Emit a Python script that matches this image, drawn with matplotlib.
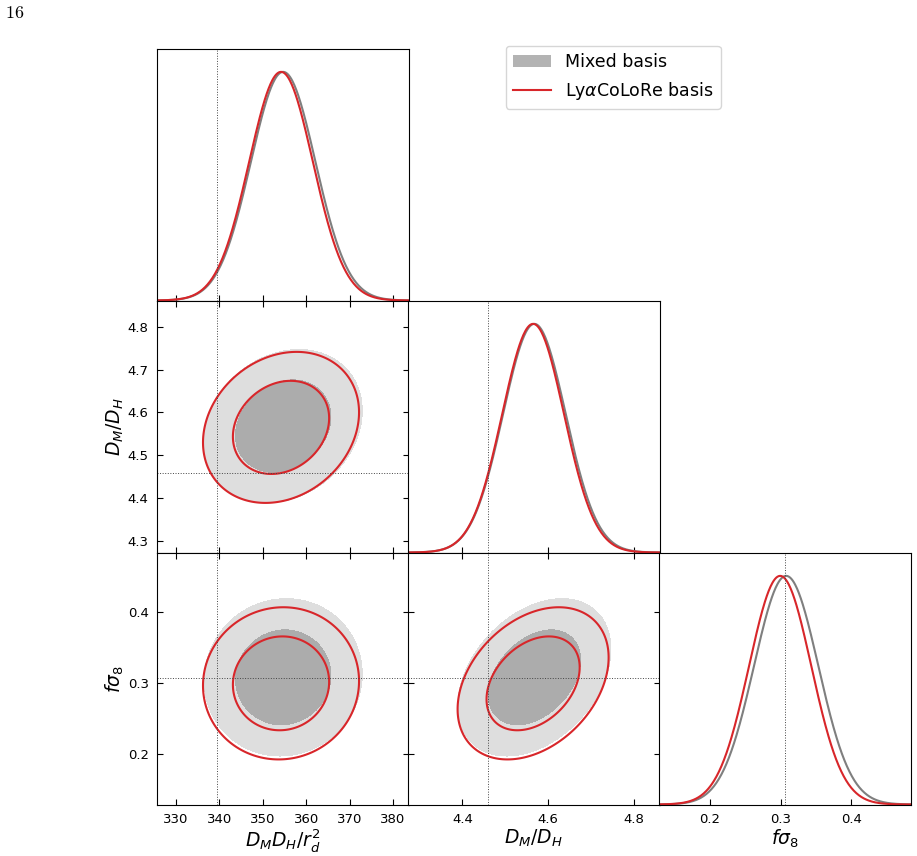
import numpy as np
import matplotlib.pyplot as plt
from matplotlib.patches import Patch
from matplotlib.lines import Line2D

# parameters shown in the triangle plot
labels = [r"$D_MD_H/r_d^2$", r"$D_M/D_H$", r"$f\sigma_8$"]
ranges = [(325.6, 383.6), (4.273, 4.860), (0.128, 0.484)]
ticks = [[330, 340, 350, 360, 370, 380],
         [4.3, 4.4, 4.5, 4.6, 4.7, 4.8],
         [0.2, 0.3, 0.4]]
xticks_mid = [4.4, 4.6, 4.8]
fiducial = [339.5, 4.459, 0.307]

# Mixed basis posterior summary (mean, sigma, correlations 01, 02, 12)
mixed_mean = [354.7, 4.568, 0.308]
mixed_sigma = [7.45, 0.073, 0.0455]
mixed_corr = [0.2, 0.04, 0.36]

# LyaCoLoRe basis posterior summary
colore_mean = [354.2, 4.565, 0.2995]
colore_sigma = [7.35, 0.072, 0.044]
colore_corr = [0.2, 0.03, 0.34]

GRAY_LINE = "#7f7f7f"
GRAY_IN = "#acacac"
GRAY_OUT = "#dedede"
RED = "#d8262a"


def corr(c, i, j):
    key = {(0, 1): 0, (0, 2): 1, (1, 2): 2}[(min(i, j), max(i, j))]
    return c[key]


def maha2(mean, sigma, c, i, j, X, Y):
    r = corr(c, i, j)
    u = (X - mean[i]) / sigma[i]
    v = (Y - mean[j]) / sigma[j]
    return (u * u - 2 * r * u * v + v * v) / (1 - r * r)


def main():
    W, H = 917, 856
    fig = plt.figure(figsize=(W / 100, H / 100), dpi=100)
    lefts = [157, 408, 659]
    tops = [49, 301, 553]
    size = 251.5

    d68 = -2 * np.log(1 - 0.68)
    d95 = -2 * np.log(1 - 0.95)

    for row in range(3):
        for col in range(row + 1):
            ax = fig.add_axes([lefts[col] / W, 1 - (tops[row] + size) / H,
                               size / W, size / H])
            xr = ranges[col]
            ax.set_xlim(xr)
            if row == col:
                x = np.linspace(xr[0], xr[1], 400)
                for mean, sig, colr in [(mixed_mean, mixed_sigma, GRAY_LINE),
                                        (colore_mean, colore_sigma, RED)]:
                    y = np.exp(-0.5 * ((x - mean[col]) / sig[col]) ** 2)
                    ax.plot(x, y, color=colr, lw=1.5)
                ax.set_ylim(0, 1.1)
                ax.axvline(fiducial[col], color="#444444", ls=":", lw=0.7)
                ax.set_yticks([])
                ax.tick_params(axis="x", direction="in", length=4, pad=6,
                               labelsize=9.5, labelbottom=(row == 2))
            else:
                yr = ranges[row]
                ax.set_ylim(yr)
                X, Y = np.meshgrid(np.linspace(xr[0], xr[1], 300),
                                   np.linspace(yr[0], yr[1], 300))
                D = maha2(mixed_mean, mixed_sigma, mixed_corr, col, row, X, Y)
                ax.contourf(X, Y, D, levels=[0, d68, d95],
                            colors=[GRAY_IN, GRAY_OUT])
                D = maha2(colore_mean, colore_sigma, colore_corr, col, row, X, Y)
                ax.contour(X, Y, D, levels=[d68, d95], colors=RED,
                           linewidths=1.5)
                ax.axvline(fiducial[col], color="#444444", ls=":", lw=0.7)
                ax.axhline(fiducial[row], color="#444444", ls=":", lw=0.7)
                ax.set_yticks(ticks[row])
                ax.tick_params(direction="in", top=True, right=True, length=4,
                               pad=6, labelsize=9.5,
                               labelleft=(col == 0), labelbottom=(row == 2))
                if col == 0:
                    ax.set_ylabel(labels[row], fontsize=13.5, labelpad=1)
            ax.set_xticks(xticks_mid if col == 1 else ticks[col])
            if row == 2:
                ax.set_xlabel(labels[col], fontsize=13.5, labelpad=1)

    handles = [Patch(facecolor="#b3b3b3", edgecolor="none"),
               Line2D([], [], color=RED, lw=1.5)]
    fig.legend(handles, ["Mixed basis", r"Ly$\alpha$CoLoRe basis"],
               loc="upper left", bbox_to_anchor=(506 / W, 1 - 46 / H),
               fontsize=12.5, handlelength=2.2, borderaxespad=0)

    fig.text(5 / W, 1 - 13 / H, r"$16$", fontsize=13, va="center",
             math_fontfamily="cm")

    fig.savefig("out.png", dpi=100)


if __name__ == "__main__":
    main()
